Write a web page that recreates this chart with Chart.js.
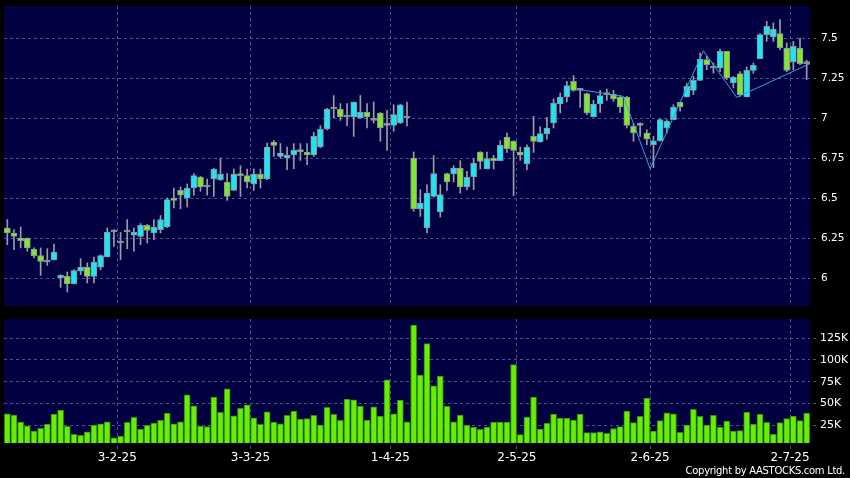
<!DOCTYPE html>
<html><head><meta charset="utf-8">
<script src="https://cdn.jsdelivr.net/npm/chart.js@4.4.1/dist/chart.umd.min.js"></script>
<style>
html,body{margin:0;padding:0;background:#000;}
#wrap{position:relative;width:850px;height:478px;overflow:hidden;background:#000;}
#c1{position:absolute;left:0;top:0;}
#c2{position:absolute;left:0;top:310px;}
#copy{position:absolute;right:5px;top:466px;color:#fff;font-family:'DejaVu Sans',sans-serif;font-size:10px;line-height:10px;letter-spacing:-0.3px;white-space:nowrap;}
</style></head><body>
<div id="wrap">
<canvas id="c1" width="850" height="310"></canvas>
<canvas id="c2" width="850" height="168"></canvas>
<div id="copy">Copyright by AASTOCKS.com Ltd.</div>
</div>
<script>
const categories = [
'6-1-25','7-1-25','8-1-25','9-1-25','10-1-25','13-1-25','14-1-25','15-1-25','16-1-25','17-1-25','20-1-25','21-1-25','22-1-25','23-1-25','24-1-25','27-1-25','28-1-25',
'3-2-25','4-2-25','5-2-25','6-2-25','7-2-25','10-2-25','11-2-25','12-2-25','13-2-25','14-2-25','17-2-25','18-2-25','19-2-25','20-2-25','21-2-25','24-2-25','25-2-25','26-2-25','27-2-25','28-2-25',
'3-3-25','4-3-25','5-3-25','6-3-25','7-3-25','10-3-25','11-3-25','12-3-25','13-3-25','14-3-25','17-3-25','18-3-25','19-3-25','20-3-25','21-3-25','24-3-25','25-3-25','26-3-25','27-3-25','28-3-25','31-3-25',
'1-4-25','2-4-25','3-4-25','7-4-25','8-4-25','9-4-25','10-4-25','11-4-25','14-4-25','15-4-25','16-4-25','17-4-25','22-4-25','23-4-25','24-4-25','25-4-25','28-4-25','29-4-25','30-4-25',
'2-5-25','6-5-25','7-5-25','8-5-25','9-5-25','12-5-25','13-5-25','14-5-25','15-5-25','16-5-25','19-5-25','20-5-25','21-5-25','22-5-25','23-5-25','26-5-25','27-5-25','28-5-25','29-5-25','30-5-25',
'2-6-25','3-6-25','4-6-25','5-6-25','6-6-25','9-6-25','10-6-25','11-6-25','12-6-25','13-6-25','16-6-25','17-6-25','18-6-25','19-6-25','20-6-25','23-6-25','24-6-25','25-6-25','26-6-25','27-6-25','30-6-25',
'2-7-25','3-7-25','4-7-25'];

const open = [6.3125,6.281,6.25,6.25,6.181,6.14,6.1,6.1125,6.0,6.01,5.9625,6.042,6.069,6.01,6.067,6.131,6.2875,6.219,6.2875,6.267,
6.26,6.329,6.281,6.302,6.319,6.5,6.548,6.5,6.5625,6.631,6.569,6.619,6.615,6.6,6.548,6.652,6.64,6.5875,6.65,6.619,
6.85,6.76,6.75,6.769,6.798,6.7875,6.769,6.819,6.931,7.056,7.056,7.006,7.006,7.0,7.035,6.985,7.031,6.954,6.954,6.969,
7.0,6.75,6.431,6.3125,6.51,6.4125,6.652,6.65,6.6875,6.569,6.631,6.7875,6.681,6.75,6.733,6.881,6.854,6.7875,6.7125,6.885,
6.85,6.9,6.969,7.0875,7.131,7.229,7.173,7.152,7.006,7.0875,7.146,7.15,7.131,7.131,6.948,6.954,6.906,6.833,6.858,6.9375,
6.99,7.1,7.131,7.173,7.235,7.365,7.3125,7.3125,7.417,7.219,7.277,7.131,7.298,7.371,7.521,7.506,7.527,7.4375,7.35,7.4375,7.34];
const high = [6.365,6.302,6.319,6.25,6.188,6.188,6.183,6.2125,6.021,6.0375,6.052,6.121,6.094,6.131,6.145,6.3125,6.302,6.285,6.365,6.3125,
6.34,6.335,6.365,6.39,6.5,6.5625,6.569,6.5875,6.652,6.635,6.619,6.685,6.75,6.652,6.681,6.702,6.681,6.681,6.681,6.844,
6.86,6.84,6.819,6.84,6.84,6.84,6.91,6.952,7.06,7.14,7.09,7.09,7.1,7.14,7.09,7.1,7.035,7.048,7.083,7.085,
7.10,6.7875,6.552,6.583,6.765,6.583,6.655,6.702,6.733,6.667,6.744,6.79,6.7875,6.767,6.858,6.906,6.858,6.819,6.833,7.01,
6.946,7.004,7.119,7.156,7.229,7.265,7.18,7.155,7.11,7.173,7.18,7.173,7.14,7.135,6.965,6.97,6.927,6.885,6.995,6.99,
7.083,7.1,7.215,7.26,7.406,7.385,7.344,7.431,7.417,7.26,7.29,7.319,7.344,7.527,7.604,7.594,7.615,7.469,7.479,7.5,7.36];
const low = [6.208,6.177,6.188,6.167,6.125,6.017,6.079,6.1125,5.942,5.9125,5.9625,6.021,5.969,5.969,6.052,6.131,6.198,6.115,6.183,6.167,
6.208,6.219,6.24,6.281,6.315,6.4375,6.433,6.444,6.517,6.542,6.517,6.51,6.61,6.485,6.548,6.51,6.5625,6.548,6.5625,6.615,
6.76,6.75,6.677,6.683,6.735,6.708,6.76,6.815,6.925,7.0,6.985,6.952,6.885,6.998,6.9375,6.969,6.854,6.798,6.917,6.965,
6.95,6.417,6.385,6.281,6.505,6.381,6.548,6.6,6.531,6.552,6.552,6.681,6.681,6.681,6.733,6.785,6.515,6.735,6.677,6.785,
6.848,6.867,6.9375,7.031,7.1,7.167,7.067,7.021,7.006,7.035,7.11,7.104,7.035,6.9375,6.854,6.885,6.833,6.69,6.855,6.906,
6.99,7.042,7.131,7.146,7.235,7.302,7.281,7.29,7.24,7.1875,7.135,7.131,7.28,7.371,7.479,7.479,7.427,7.29,7.302,7.333,7.24];
const close = [6.281,6.26,6.233,6.1875,6.14,6.104,6.1125,6.1625,6.017,5.9625,6.046,6.069,6.01,6.1,6.14,6.2875,6.2875,6.219,6.2875,6.2875,
6.329,6.298,6.319,6.365,6.49,6.485,6.517,6.5625,6.64,6.569,6.569,6.681,6.65,6.51,6.65,6.64,6.6,6.65,6.619,6.819,
6.829,6.781,6.769,6.798,6.79,6.769,6.885,6.931,7.056,7.056,7.006,7.006,7.1,7.035,7.006,6.985,6.9375,6.954,7.021,7.083,
7.0,6.431,6.469,6.531,6.652,6.521,6.6,6.6875,6.569,6.631,6.719,6.729,6.746,6.733,6.829,6.808,6.798,6.767,6.819,6.854,
6.902,6.9375,7.094,7.131,7.202,7.173,7.173,7.031,7.0875,7.14,7.146,7.119,7.069,6.954,6.906,6.954,6.869,6.858,6.99,6.979,
7.069,7.069,7.198,7.235,7.369,7.333,7.3125,7.417,7.25,7.254,7.146,7.298,7.329,7.521,7.573,7.556,7.4375,7.298,7.448,7.34,7.34];
const volume = [38000,36500,28400,24200,18100,21200,26100,37600,42200,23500,14300,13100,17300,25000,26500,28800,10400,12400,28100,33800,
20400,24600,27300,30400,38800,26500,28800,59900,47200,23900,23100,57200,39600,66800,35700,44200,48400,33400,25800,40300,
28400,26500,36100,41100,31900,32300,36100,25000,45300,37300,30400,54900,54100,46800,30700,46100,35300,77100,38000,53700,
28800,140300,82500,118900,70200,81300,46500,28800,36500,25000,22700,20000,22700,28400,28400,28400,94700,13900,34200,57200,
20400,27300,37600,33000,33000,30700,37600,16200,16200,17300,15400,20800,23100,41100,27700,35000,56000,18100,30000,39200,
38000,16600,25000,43000,35000,25000,36100,22700,29600,18100,18500,39900,26100,37300,28100,14300,27700,32300,35300,30000,38800];

const tickLabels = ['3-2-25','3-3-25','1-4-25','2-5-25','2-6-25','2-7-25'];
const priceTicks = [6,6.25,6.5,6.75,7,7.25,7.5];
const volumeTicks = [25000,50000,75000,100000,125000];
// zigzag overlay vertices (position in category units, price)
const zigzagPos = [85.5,92.5,96.5,104.5,109.5,120.5];
const zigzagVal = [7.18,7.135,6.683,7.42,7.129,7.34];

const NAVY = '#010142', GRID = '#505088';
const UP = '#20e4f0', DOWN = '#82e62c', DOJI = '#9aa3ab';
const FONT = 'DejaVu Sans';

const navyPlugin = {id:'navy', beforeDraw(chart){
  const {ctx, chartArea:a} = chart;
  ctx.save(); ctx.fillStyle = NAVY; ctx.fillRect(a.left, a.top, a.right-a.left, a.bottom-a.top); ctx.restore();
}};

function xScale(showLabels){
  return {
    type:'category', offset:true,
    grid:{display:true, offset:false, color:GRID, lineWidth:1, drawTicks:showLabels, tickLength:6, tickColor:GRID, tickBorderDash:[0,3,3,50]},
    border:{display:false, dash:[3,3]},
    ticks:{display:showLabels, autoSkip:false, maxRotation:0, minRotation:0, padding:2, color:'#fff',
      font:{family:FONT, size:12}, callback:(v)=>categories[v+0.5]},
    afterBuildTicks:(s)=>{ s.ticks = tickLabels.map(t=>({value: categories.indexOf(t)-0.5})); },
    afterFit:(s)=>{ s.height = showLabels ? 35 : 0; s.paddingLeft = 0; s.paddingRight = 0; }
  };
}
function yScale(min, max, ticksArr, fmt, size, pad){
  return {
    type:'linear', position:'right', min:min, max:max,
    afterBuildTicks:(s)=>{ s.ticks = ticksArr.map(v=>({value:v})); },
    grid:{color:GRID, lineWidth:1, drawTicks:true, tickLength:7, tickColor:GRID, tickBorderDash:[0,3,3,50]},
    border:{display:false, dash:[3,3]},
    ticks:{color:'#fff', padding:pad, font:{family:FONT, size:size}, callback:fmt},
    afterFit:(s)=>{ s.width = 40; s.paddingTop = 0; s.paddingBottom = 0; }
  };
}

const bodyColors = open.map((o,i)=> close[i] > o ? UP : (close[i] < o ? DOWN : DOJI));

new Chart(document.getElementById('c1'), {
  data:{
    labels: categories,
    datasets:[
      {type:'line', data: zigzagPos.map((p,i)=>({x:p, y:zigzagVal[i]})), parsing:false,
        borderColor:'#3c9fe2', borderWidth:1, pointRadius:0, tension:0, order:0},
      {type:'bar', data: open.map((o,i)=>[o, close[i]]), backgroundColor: bodyColors,
        borderColor:'#8794a0', borderWidth:1, borderSkipped:false, barThickness:6, minBarLength:2, grouped:false, order:1},
      {type:'bar', data: low.map((l,i)=>[l, high[i]]), backgroundColor:'#9a9ea3',
        borderWidth:0, barThickness:1, grouped:false, order:2}
    ]
  },
  options:{
    responsive:false, animation:false, events:[],
    layout:{padding:{left:4, top:6, right:0, bottom:4}},
    plugins:{legend:{display:false}, tooltip:{enabled:false}},
    scales:{
      x: xScale(false),
      y: yScale(5.825, 7.7, priceTicks, v=>String(v), 10.5, 4)
    }
  },
  plugins:[navyPlugin]
});

new Chart(document.getElementById('c2'), {
  data:{
    labels: categories,
    datasets:[
      {type:'bar', data: volume, backgroundColor:'#68ee06', borderColor:'#2f8c06', borderWidth:1,
        borderSkipped:false, barThickness:6}
    ]
  },
  options:{
    responsive:false, animation:false, events:[],
    layout:{padding:{left:4, top:9, right:0, bottom:0}},
    plugins:{legend:{display:false}, tooltip:{enabled:false}},
    scales:{
      x: xScale(true),
      y: yScale(4300, 147200, volumeTicks, v=>(v/1000)+'K', 11, 3)
    }
  },
  plugins:[navyPlugin]
});
</script>
</body></html>
